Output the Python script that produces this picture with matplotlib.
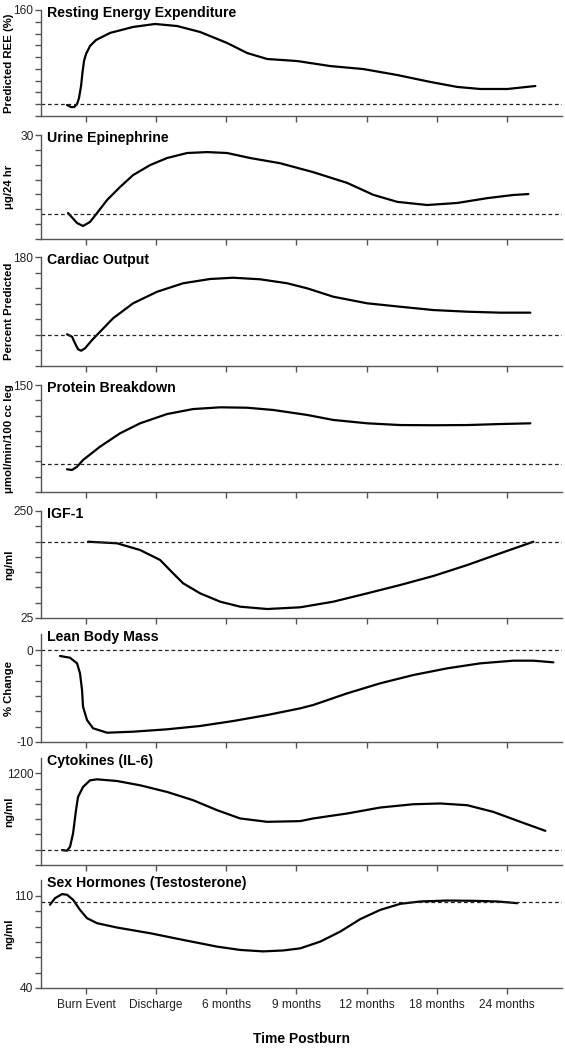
import numpy as np
import matplotlib
matplotlib.use("Agg")
from matplotlib import pyplot as plt

plt.rcParams['font.family'] = ['Liberation Sans', 'DejaVu Sans']

time_labels = ["Burn Event", "Discharge", "6 months", "9 months",
               "12 months", "18 months", "24 months"]

titles = ["Resting Energy Expenditure", "Urine Epinephrine", "Cardiac Output",
          "Protein Breakdown", "IGF-1", "Lean Body Mass", "Cytokines (IL-6)",
          "Sex Hormones (Testosterone)"]
ylabels = ["Predicted REE (%)", "\u03bcg/24 hr", "Percent Predicted",
           "\u03bcmol/min/100 cc leg", "ng/ml", "% Change", "ng/ml", "ng/ml"]
baselines = [100, 8.7, 100, 72.5, 185, 0, 200, 105.4]
ylims = [(92.5, 160), (2, 30), (68, 180), (45, 150), (25, 250),
         (-10, 1.74), (0, 1400), (40, 122)]
yticks = [np.linspace(92.5, 160, 10), np.linspace(2, 30, 8),
          np.linspace(68, 180, 8), np.linspace(45, 150, 8),
          np.linspace(25, 250, 8), np.linspace(-10, 0, 7),
          np.linspace(0, 1200, 7), np.linspace(40, 110, 7)]
ylabeled = [["160"], ["30"], ["180"], ["150"], ["25", "250"], ["-10", "0"],
            ["1200"], ["40", "110"]]

# curves, x in units of the time axis (1 = Burn Event ... 7 = 24 months)
ree_x = [0.729, 0.786, 0.829, 0.872, 0.900, 0.929, 0.950, 0.971, 1.0, 1.057, 1.143,
         1.342, 1.670, 1.984, 2.298, 2.626, 3.011, 3.297, 3.582, 4.01, 4.481,
         4.952, 5.436, 5.907, 6.292, 6.62, 7.006, 7.405]
ree_y = [99.5, 98.2, 98.2, 100.1, 104.0, 111.6, 120.5, 127.5, 132.0, 137.1, 140.9,
         145.4, 149.2, 151.1, 149.8, 146.0, 139.0, 132.6, 128.8, 127.5, 124.3,
         122.4, 118.6, 114.2, 111.0, 109.7, 109.7, 111.6]

epi_x = [0.743, 0.872, 0.957, 1.057, 1.157, 1.30, 1.485, 1.670, 1.913, 2.155,
         2.441, 2.726, 3.011, 3.34, 3.767, 4.238, 4.723, 5.094, 5.436, 5.864,
         6.292, 6.72, 7.09, 7.305]
epi_y = [9.0, 6.3, 5.5, 6.6, 9.0, 12.5, 16.0, 19.2, 21.9, 23.8,
         25.15, 25.4, 25.15, 23.8, 22.4, 20.0, 17.1, 13.9, 12.0, 11.15,
         11.7, 13.0, 13.85, 14.1]

co_x = [0.729, 0.80, 0.843, 0.886, 0.929, 0.986, 1.086, 1.20, 1.385, 1.670,
        2.013, 2.384, 2.769, 3.097, 3.482, 3.867, 4.153, 4.524, 5.009, 5.479,
        5.95, 6.435, 6.906, 7.334]
co_y = [100.6, 98.1, 91.3, 85.2, 83.7, 86.2, 94.7, 103.2, 117.0, 132.4,
        144.3, 153.0, 157.4, 158.7, 157.1, 153.0, 147.8, 139.2, 132.4, 128.9,
        125.5, 123.8, 122.8, 122.8]

prot_x = [0.729, 0.80, 0.872, 0.957, 1.20, 1.485, 1.770, 2.155, 2.526, 2.912,
          3.297, 3.668, 4.153, 4.524, 5.009, 5.479, 5.95, 6.435, 6.906, 7.334]
prot_y = [67.3, 66.6, 69.8, 76.4, 89.5, 102.6, 112.4, 121.5, 126.4, 128.1,
          127.7, 125.5, 120.6, 115.7, 112.4, 110.7, 110.5, 110.7, 111.7, 112.4]

igf_x = [1.029, 1.442, 1.770, 2.056, 2.241, 2.384, 2.626, 2.912, 3.197, 3.582,
         4.053, 4.524, 5.009, 5.479, 5.95, 6.435, 6.906, 7.377]
igf_y = [185.4, 182.1, 168.0, 147.0, 119.0, 98.0, 76.9, 59.3, 48.8, 43.9,
         47.5, 59.3, 76.9, 94.4, 113.3, 136.4, 161.1, 185.4]

lbm_x = [0.629, 0.772, 0.872, 0.914, 0.943, 0.957, 1.014, 1.10, 1.30, 1.670,
         2.155, 2.626, 3.097, 3.582, 4.053, 4.238, 4.723, 5.194, 5.665, 6.15,
         6.62, 7.091, 7.377, 7.662]
lbm_y = [-0.65, -0.84, -1.45, -2.53, -4.35, -6.16, -7.61, -8.51, -8.99, -8.88,
         -8.62, -8.26, -7.72, -7.07, -6.34, -5.98, -4.71, -3.62, -2.72, -1.99,
         -1.45, -1.16, -1.16, -1.34]

il6_x = [0.658, 0.729, 0.772, 0.815, 0.857, 0.886, 0.957, 1.057, 1.157, 1.442,
         1.770, 2.155, 2.526, 2.869, 3.197, 3.582, 4.053, 4.238, 4.723, 5.194,
         5.665, 6.05, 6.435, 6.806, 7.191, 7.548]
il6_y = [196, 187, 239, 413, 717, 891, 1021, 1108, 1121, 1099,
         1043, 956, 848, 717, 609, 565, 574, 609, 674, 752,
         795, 805, 782, 695, 565, 447]

tes_x = [0.486, 0.558, 0.658, 0.729, 0.815, 0.914, 1.014, 1.157, 1.442, 1.913,
         2.384, 2.869, 3.197, 3.525, 3.81, 4.053, 4.338, 4.623, 4.909, 5.194,
         5.479, 5.765, 6.15, 6.521, 6.863, 7.148]
tes_y = [103.2, 108.2, 111.3, 110.8, 107.0, 99.3, 93.0, 89.2, 85.9, 81.6,
         76.5, 71.4, 68.9, 67.8, 68.5, 70.1, 75.2, 82.8, 92.3, 99.3,
         103.9, 105.7, 106.4, 106.2, 105.7, 104.4]

curves = [(ree_x, ree_y), (epi_x, epi_y), (co_x, co_y), (prot_x, prot_y),
          (igf_x, igf_y), (lbm_x, lbm_y), (il6_x, il6_y), (tes_x, tes_y)]

# panel boxes in pixels (top, bottom)
boxes = [(10, 116), (135, 239), (257, 366), (385, 492), (511, 618),
         (634, 742), (758, 865), (880, 988)]

W, H = 565, 1050
fig = plt.figure(figsize=(W / 100, H / 100), dpi=100)
axcol = '#555555'
xpos = np.arange(1, len(time_labels) + 1)

for i, (top, bot) in enumerate(boxes):
    ax = fig.add_axes([41 / W, 1 - bot / H, 521 / W, (bot - top) / H])
    x, y = curves[i]
    ax.plot(x, y, color='black', lw=1.6, solid_capstyle='round',
            solid_joinstyle='round')
    ax.axhline(baselines[i], color='#222222', lw=0.9, ls=(0, (3, 2.2)))
    ax.set_xlim(0.358, 7.785)
    ax.set_ylim(*ylims[i])
    for s in ['top', 'right']:
        ax.spines[s].set_visible(False)
    for s in ['left', 'bottom']:
        ax.spines[s].set_color(axcol)
        ax.spines[s].set_linewidth(1.0)
    labs = []
    for t in yticks[i]:
        s = "%g" % round(t, 2)
        labs.append(s if s in ylabeled[i] else "")
    ax.set_yticks(yticks[i], labs)
    ax.set_xticks(xpos)
    if i == len(boxes) - 1:
        ax.set_xticklabels(time_labels)
    else:
        ax.set_xticklabels([])
    ax.tick_params(axis='both', direction='out', length=4, width=1.0,
                   color=axcol, labelsize=8.6, labelcolor='#222222', pad=1.5)
    ax.tick_params(axis='x', pad=4)
    ax.text(0.012, 0.975, titles[i], transform=ax.transAxes, ha='left',
            va='center', fontsize=10.2, fontweight='bold')
    ax.set_ylabel(ylabels[i], fontsize=8.2, fontweight='bold')
    ax.yaxis.set_label_coords(-0.052, 0.5)
    if i == len(boxes) - 1:
        ax.set_xlabel("Time Postburn", fontsize=10, fontweight='bold',
                      labelpad=15)

fig.savefig("out.png", dpi=100)
